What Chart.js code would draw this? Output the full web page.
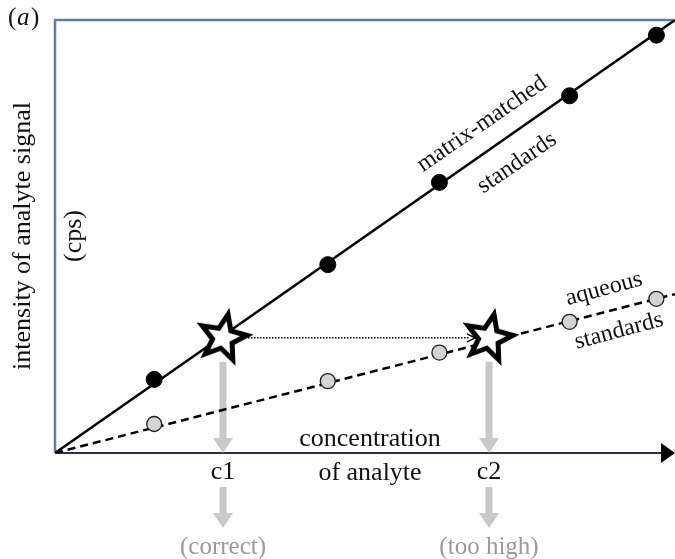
<!DOCTYPE html>
<html>
<head>
<meta charset="utf-8">
<script src="https://cdn.jsdelivr.net/npm/chart.js@4"></script>
<style>
  body { margin: 0; background: #fff; }
  canvas { display: block; }
</style>
</head>
<body>
<canvas id="calibrationChart" width="675" height="559"></canvas>
<script>
// calibration standards (concentration vs. signal, arbitrary units)
const concLevels = [16, 44, 62, 83, 97];
const matrixSignal = [17, 43.5, 62.5, 82.5, 96.5];
const aqueousSignal = [6.7, 16.6, 23.2, 30.3, 35.6];

// calibration lines through the origin
const matrixFitX = [0, 100];
const matrixFitY = [0, 100];
const aqueousFitX = [0, 100];
const aqueousFitY = [0, 36.7];

// the sample read against each calibration
const sampleConc = [27.1, 70.0];
const sampleSignal = [26.6, 26.6];
const sampleLabels = ['c1', 'c2'];
const sampleVerdicts = ['(correct)', '(too high)'];

const SERIF = '"Liberation Serif", "DejaVu Serif", serif';

function toPoints(xs, ys) {
    return xs.map((x, i) => ({ x: x, y: ys[i] }));
}

// white star with heavy black outline, used as point style
function makeStar() {
    const size = 80;
    const c = document.createElement('canvas');
    c.width = size;
    c.height = size;
    const g = c.getContext('2d');
    const outer = 24, inner = 10.5, rot = 12 * Math.PI / 180;
    g.translate(size / 2, size / 2);
    g.beginPath();
    for (let i = 0; i < 10; i++) {
        const r = i % 2 === 0 ? outer : inner;
        const a = -Math.PI / 2 + rot + i * Math.PI / 5;
        const px = r * Math.cos(a), py = r * Math.sin(a);
        if (i === 0) g.moveTo(px, py); else g.lineTo(px, py);
    }
    g.closePath();
    g.fillStyle = '#fff';
    g.fill();
    g.lineWidth = 5;
    g.lineJoin = 'miter';
    g.strokeStyle = '#000';
    g.stroke();
    return c;
}

function drawArrowDown(ctx, x, y0, y1) {
    const headLen = 15, headHalf = 10, shaft = 7;
    ctx.save();
    ctx.fillStyle = '#c9c9c9';
    ctx.fillRect(x - shaft / 2, y0, shaft, y1 - y0 - headLen + 1);
    ctx.beginPath();
    ctx.moveTo(x - headHalf, y1 - headLen);
    ctx.lineTo(x + headHalf, y1 - headLen);
    ctx.lineTo(x, y1);
    ctx.closePath();
    ctx.fill();
    ctx.restore();
}

function rotatedText(ctx, text, x, y, deg) {
    ctx.save();
    ctx.translate(x, y);
    ctx.rotate(deg * Math.PI / 180);
    ctx.fillText(text, 0, 0);
    ctx.restore();
}

const diagramPlugin = {
    id: 'diagram',
    beforeDatasetsDraw(chart) {
        const ctx = chart.ctx;
        const area = chart.chartArea;
        const xs = chart.scales.x, ys = chart.scales.y;

        // frame: top and left borders
        ctx.save();
        ctx.strokeStyle = '#5a7fa8';
        ctx.lineWidth = 2.5;
        ctx.beginPath();
        ctx.moveTo(area.left, area.bottom);
        ctx.lineTo(area.left, area.top);
        ctx.lineTo(area.right, area.top);
        ctx.stroke();

        // concentration axis with arrow head
        ctx.strokeStyle = '#243444';
        ctx.lineWidth = 2;
        ctx.beginPath();
        ctx.moveTo(area.left, area.bottom);
        ctx.lineTo(area.right - 12, area.bottom);
        ctx.stroke();
        ctx.fillStyle = '#000';
        ctx.beginPath();
        ctx.moveTo(area.right - 14, area.bottom - 10);
        ctx.lineTo(area.right, area.bottom);
        ctx.lineTo(area.right - 14, area.bottom + 10);
        ctx.closePath();
        ctx.fill();
        ctx.restore();

        // grey drop arrows from each sample
        const sy = ys.getPixelForValue(sampleSignal[0]);
        sampleConc.forEach(c => {
            const px = xs.getPixelForValue(c);
            drawArrowDown(ctx, px, sy + 24, area.bottom);
            drawArrowDown(ctx, px, area.bottom + 34, area.bottom + 75);
        });

        // dotted arrow from the true sample reading to the aqueous reading
        const x1 = xs.getPixelForValue(sampleConc[0]) + 25;
        const x2 = xs.getPixelForValue(sampleConc[1]) - 14;
        ctx.save();
        ctx.strokeStyle = '#000';
        ctx.lineWidth = 1.5;
        ctx.setLineDash([1.5, 1.5]);
        ctx.beginPath();
        ctx.moveTo(x1, sy);
        ctx.lineTo(x2 - 6, sy);
        ctx.stroke();
        ctx.setLineDash([]);
        ctx.beginPath();
        ctx.moveTo(x2 - 8, sy - 4);
        ctx.lineTo(x2, sy);
        ctx.lineTo(x2 - 8, sy + 4);
        ctx.stroke();
        ctx.restore();
    },
    afterDatasetsDraw(chart) {
        const ctx = chart.ctx;
        const area = chart.chartArea;
        const xs = chart.scales.x;
        ctx.save();
        ctx.fillStyle = '#111';
        ctx.textAlign = 'center';
        ctx.textBaseline = 'middle';

        // panel tag
        ctx.font = '25px ' + SERIF;
        ctx.textAlign = 'left';
        ctx.fillText('(', 8, 18);
        ctx.font = 'italic 25px ' + SERIF;
        ctx.fillText('a', 17, 18);
        ctx.font = '25px ' + SERIF;
        ctx.fillText(')', 31, 18);
        ctx.textAlign = 'center';

        // axis titles
        ctx.font = '26px ' + SERIF;
        rotatedText(ctx, 'intensity of analyte signal', 23, 236, -90);
        rotatedText(ctx, '(cps)', 74, 236, -90);
        ctx.fillText('concentration', 370, area.bottom - 14);
        ctx.fillText('of analyte', 370, area.bottom + 20);

        // line labels
        ctx.font = '24px ' + SERIF;
        rotatedText(ctx, 'matrix-matched', 482, 124, -34.5);
        rotatedText(ctx, 'standards', 517, 163, -34.5);
        rotatedText(ctx, 'aqueous', 604, 289, -15);
        rotatedText(ctx, 'standards', 619, 331, -15);

        // sample readings and verdicts
        sampleConc.forEach((c, i) => {
            const px = xs.getPixelForValue(c);
            ctx.fillStyle = '#111';
            ctx.font = '26px ' + SERIF;
            ctx.fillText(sampleLabels[i], px, area.bottom + 19);
            ctx.fillStyle = '#9a9a9a';
            ctx.font = '25px ' + SERIF;
            ctx.fillText(sampleVerdicts[i], px, area.bottom + 94);
        });
        ctx.restore();
    }
};

const ctx = document.getElementById('calibrationChart').getContext('2d');
const calibrationChart = new Chart(ctx, {
    type: 'scatter',
    data: {
        datasets: [
            {
                label: 'sample',
                data: toPoints(sampleConc, sampleSignal),
                pointStyle: makeStar(),
                pointRadius: 22
            },
            {
                label: 'matrix-matched standards',
                data: toPoints(concLevels, matrixSignal),
                pointRadius: 8,
                backgroundColor: '#000',
                borderColor: '#000',
                borderWidth: 1
            },
            {
                label: 'aqueous standards',
                data: toPoints(concLevels, aqueousSignal),
                pointRadius: 7.5,
                backgroundColor: '#d4d4d4',
                borderColor: '#222',
                borderWidth: 1.3
            },
            {
                label: 'matrix-matched fit',
                data: toPoints(matrixFitX, matrixFitY),
                showLine: true,
                pointRadius: 0,
                borderColor: '#000',
                borderWidth: 2.5
            },
            {
                label: 'aqueous fit',
                data: toPoints(aqueousFitX, aqueousFitY),
                showLine: true,
                pointRadius: 0,
                borderColor: '#000',
                borderWidth: 2.5,
                borderDash: [8, 5]
            }
        ]
    },
    options: {
        responsive: false,
        animation: false,
        layout: {
            autoPadding: false,
            padding: { left: 55, top: 20, right: 0, bottom: 106 }
        },
        scales: {
            x: { type: 'linear', min: 0, max: 100, display: false },
            y: { type: 'linear', min: 0, max: 100, display: false }
        },
        plugins: {
            legend: { display: false },
            tooltip: { enabled: false }
        }
    },
    plugins: [diagramPlugin]
});
</script>
</body>
</html>
